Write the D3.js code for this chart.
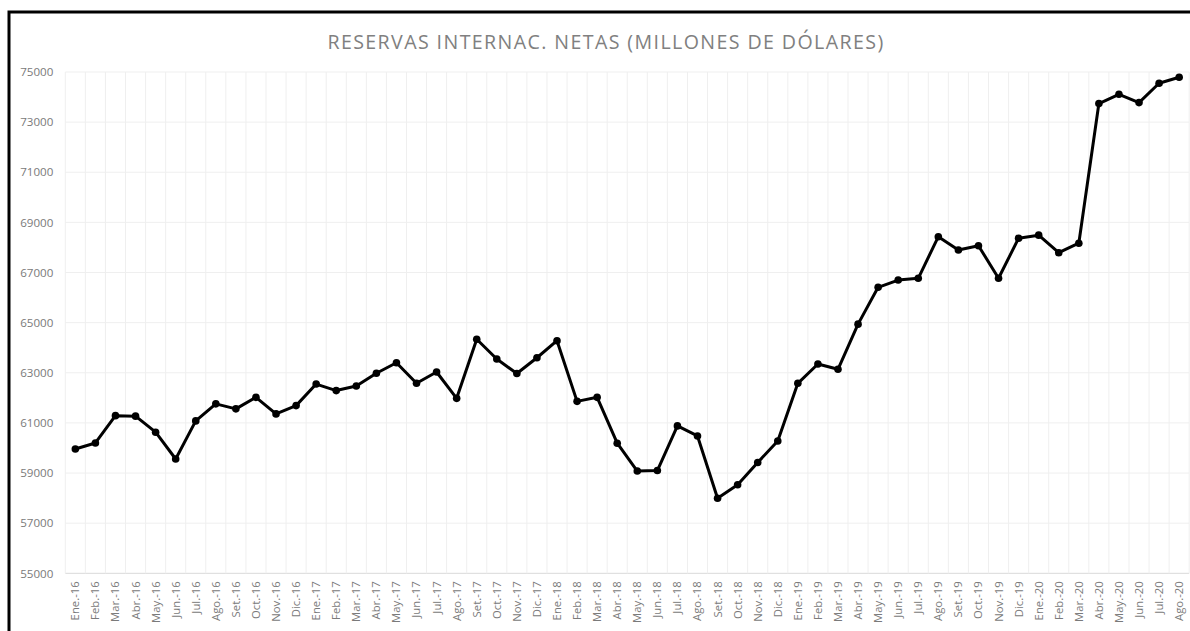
<!DOCTYPE html>
<html><head><meta charset="utf-8">
<script src="https://cdn.jsdelivr.net/npm/d3@7"></script>
<style>html,body{margin:0;padding:0;background:#fff;overflow:hidden}</style>
</head><body>
<svg id="chart" width="1190" height="631"></svg>
<script>
const title = "RESERVAS INTERNAC. NETAS (MILLONES DE DÓLARES)";
const categories = [
 "Ene.-16","Feb.-16","Mar.-16","Abr.-16","May.-16","Jun.-16","Jul.-16","Ago.-16","Set.-16","Oct.-16","Nov.-16","Dic.-16",
 "Ene.-17","Feb.-17","Mar.-17","Abr.-17","May.-17","Jun.-17","Jul.-17","Ago.-17","Set.-17","Oct.-17","Nov.-17","Dic.-17",
 "Ene.-18","Feb.-18","Mar.-18","Abr.-18","May.-18","Jun.-18","Jul.-18","Ago.-18","Set.-18","Oct.-18","Nov.-18","Dic.-18",
 "Ene.-19","Feb.-19","Mar.-19","Abr.-19","May.-19","Jun.-19","Jul.-19","Ago.-19","Set.-19","Oct.-19","Nov.-19","Dic.-19",
 "Ene.-20","Feb.-20","Mar.-20","Abr.-20","May.-20","Jun.-20","Jul.-20","Ago.-20"];
const reservas = [
 59960,60200,61290,61270,60630,59560,61080,61760,61560,62020,61360,61690,
 62550,62290,62470,62980,63400,62580,63030,61980,64340,63550,62970,63600,
 64280,61860,62020,60190,59080,59100,60880,60480,57995,58530,59420,60280,
 62580,63350,63140,64940,66410,66700,66770,68430,67900,68070,66770,68370,
 68490,67790,68170,73740,74110,73780,74550,74790];
const yTicks = [55000,57000,59000,61000,63000,65000,67000,69000,71000,73000,75000];

const svg = d3.select("#chart");
const W = 1190, H = 631;
const m = {left:65.3, right:1189.2, top:72, bottom:573.3};

svg.append("rect").attr("x",9).attr("y",12).attr("width",W+20).attr("height",H+20)
  .attr("fill","none").attr("stroke","#000").attr("stroke-width",3);

const x = d3.scaleBand().domain(categories).range([m.left, m.right]).paddingInner(0).paddingOuter(0);
const y = d3.scaleLinear().domain([55000,75000]).range([m.bottom, m.top]);

// horizontal gridlines
svg.append("g").selectAll("line").data(yTicks).join("line")
  .attr("x1",m.left).attr("x2",m.right)
  .attr("y1",d=>y(d)).attr("y2",d=>y(d))
  .attr("stroke",d=>d===55000?"#d9d9d9":"#efefef").attr("stroke-width",1);

// vertical gridlines at category boundaries
const bounds = categories.map(c=>x(c)).concat([x(categories[categories.length-1])+x.bandwidth()]);
svg.append("g").selectAll("line").data(bounds).join("line")
  .attr("x1",d=>d).attr("x2",d=>d)
  .attr("y1",m.top).attr("y2",m.bottom)
  .attr("stroke","#efefef").attr("stroke-width",1);

// y axis labels
const yAxis = d3.axisLeft(y).tickValues(yTicks).tickSize(0).tickPadding(0).tickFormat(d3.format("d"));
const ga = svg.append("g").attr("transform",`translate(${m.left-12},0)`).call(yAxis);
ga.select(".domain").remove();
ga.selectAll("text").attr("fill","#7a7a7a").style("font-family","'Open Sans', sans-serif").style("font-size","11.6px");

// x axis labels
const xAxis = d3.axisBottom(x).tickSize(0).tickPadding(0);
const gx = svg.append("g").attr("transform",`translate(0,${m.bottom})`).call(xAxis);
gx.select(".domain").remove();
gx.selectAll("text")
  .attr("fill","#7a7a7a").style("font-family","'Open Sans', sans-serif").style("font-size","11.3px")
  .attr("transform","rotate(-90)").attr("text-anchor","end")
  .attr("x",-8).attr("y",0).attr("dy","0.35em");

// title
svg.append("text").attr("x",606).attr("y",49).attr("text-anchor","middle")
  .attr("fill","#808080").style("font-family","'Open Sans', sans-serif").style("font-size","19.6px")
  .style("letter-spacing","1.4px").text(title);

// line
const cx = d=>x(d.c)+x.bandwidth()/2;
const data = categories.map((c,i)=>({c, v:reservas[i]}));
svg.append("path").datum(data)
  .attr("fill","none").attr("stroke","#000").attr("stroke-width",3).attr("stroke-linejoin","round")
  .attr("d", d3.line().x(cx).y(d=>y(d.v)));
svg.append("g").selectAll("circle").data(data).join("circle")
  .attr("cx",cx).attr("cy",d=>y(d.v)).attr("r",3.8).attr("fill","#000");
</script>
</body></html>
